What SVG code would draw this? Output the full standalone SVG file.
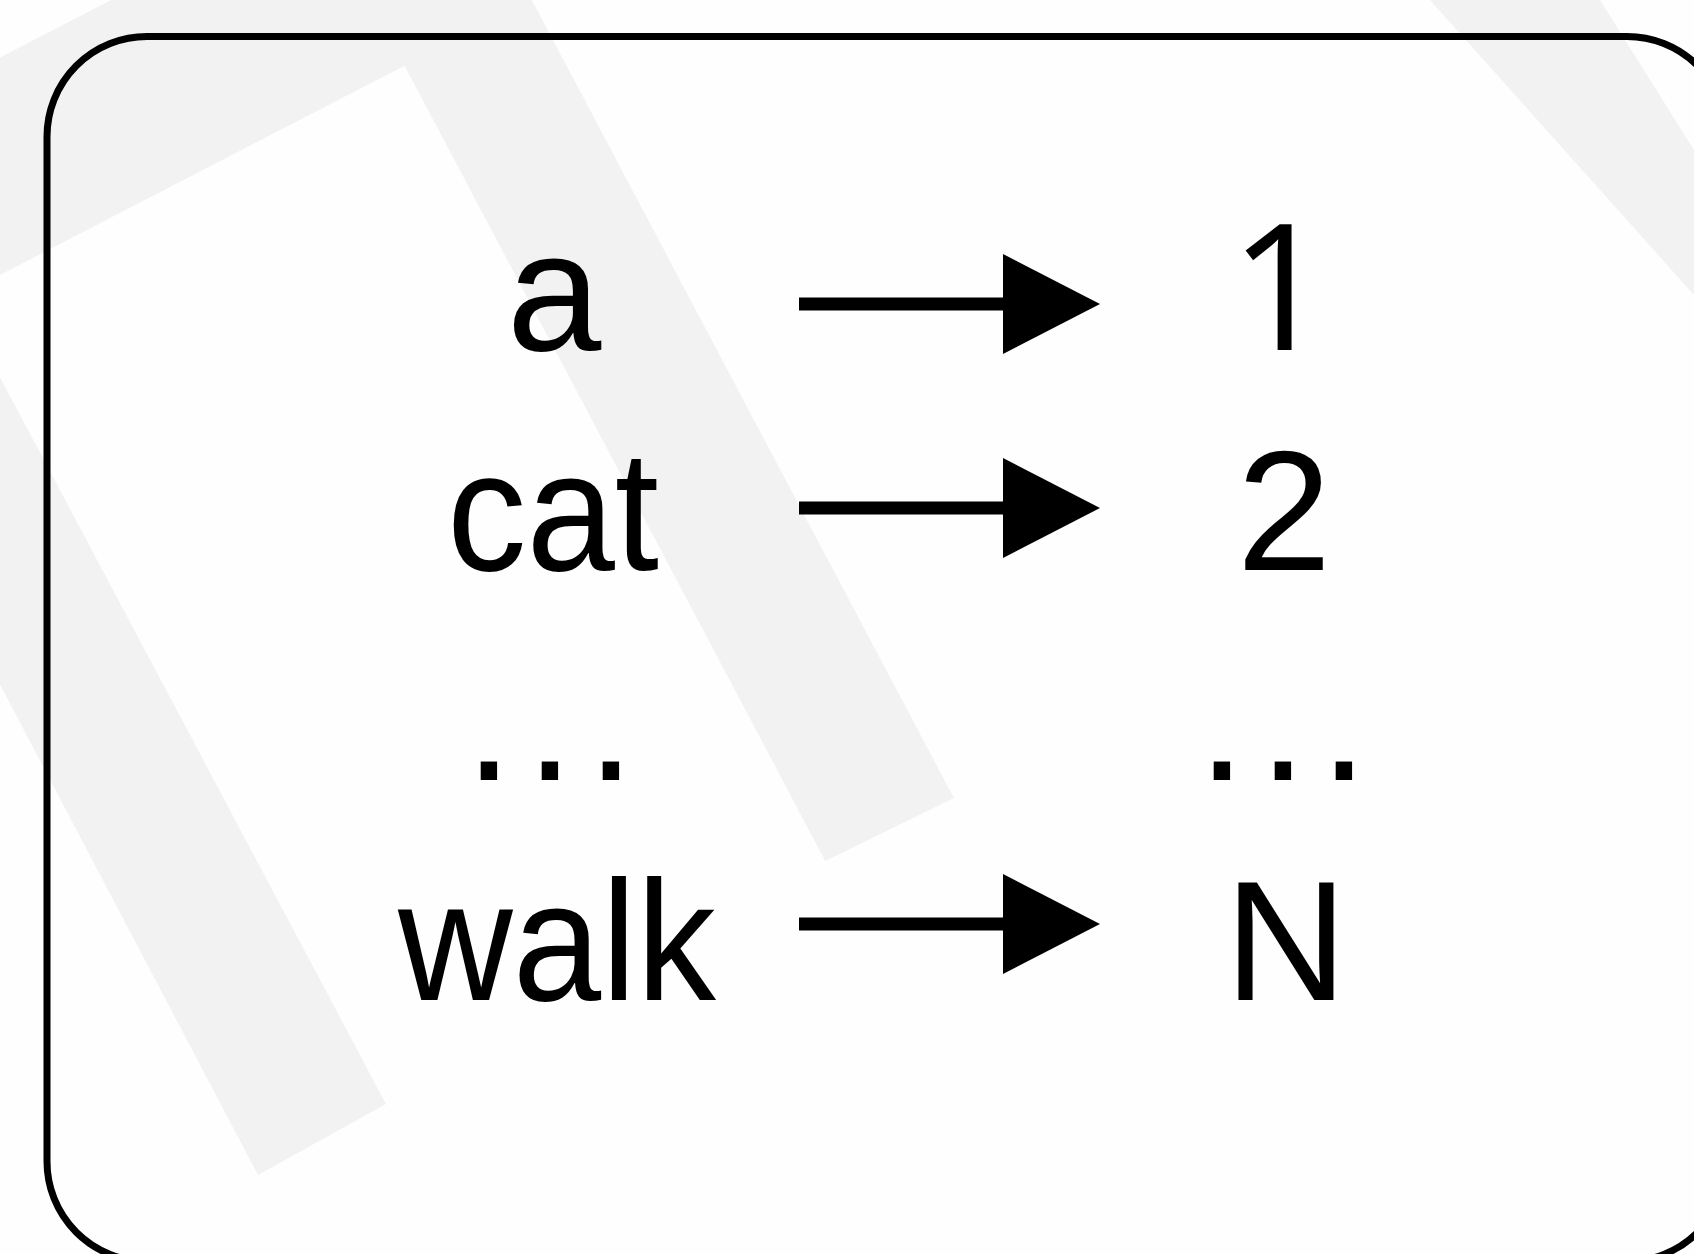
<svg xmlns="http://www.w3.org/2000/svg" width="1694" height="1254" viewBox="0 0 1694 1254">
  <style>
    .lbl { font-family: "Liberation Sans", Arial, sans-serif; font-size: 170px; fill: #000; text-anchor: middle; }
    .num { font-family: "Open Sans", "Liberation Sans", sans-serif; font-size: 176px; fill: #000; text-anchor: middle; }
    .dots { font-family: "Liberation Sans", Arial, sans-serif; font-size: 172px; fill: #000; letter-spacing: 13.2px; }
    .wm { fill: #f2f2f2; stroke: none; }
    .arrow { stroke: #000; stroke-width: 13; fill: none; marker-end: url(#head); }
  </style>
  <defs>
    <marker id="head" markerUnits="userSpaceOnUse" markerWidth="98" markerHeight="100" refX="0" refY="50" orient="auto" viewBox="0 0 98 100">
      <path d="M0,0 L97,50 L0,100 Z" fill="#000"/>
    </marker>
  </defs>

  <rect x="0" y="0" width="1694" height="1254" fill="#fefefe"/>

  <g id="watermark">
    <path class="wm" d="M-259.5,191.3 L441.6,-170.5 L953.9,798 L825.3,861 L404.6,65.7 L-42.6,297 L386,1104 L258,1175 Z"/>
    <path class="wm" d="M1430,0 L1600,0 L1694,150 L1694,295 Z"/>
  </g>

  <g id="frame">
    <path d="M147,36.5 H1627 A100,100 0 0 1 1727,136.5 V1161.5 A100,100 0 0 1 1627,1261.5 H147 A100,100 0 0 1 47,1161.5 V136.5 A100,100 0 0 1 147,36.5 Z" fill="none" stroke="#000" stroke-width="7"/>
  </g>

  <g id="node-a"><text class="lbl" x="554" y="350">a</text></g>
  <g id="node-cat"><text class="lbl" x="553" y="570" textLength="212" lengthAdjust="spacingAndGlyphs">cat</text></g>
  <g id="node-dots-left"><text class="dots" x="465" y="780">...</text></g>
  <g id="node-walk"><text class="lbl" x="557" y="1000" textLength="318" lengthAdjust="spacingAndGlyphs">walk</text></g>

  <g id="node-1"><text class="num" x="1280" y="350">1</text></g>
  <g id="node-2"><text class="lbl" x="1284" y="570">2</text></g>
  <g id="node-dots-right"><text class="dots" x="1198" y="780">...</text></g>
  <g id="node-N"><text class="lbl" x="1286" y="1000">N</text></g>

  <g id="connectors">
    <line class="arrow" x1="799" y1="304" x2="1003" y2="304"/>
    <line class="arrow" x1="799" y1="508" x2="1003" y2="508"/>
    <line class="arrow" x1="799" y1="924" x2="1003" y2="924"/>
  </g>
</svg>
